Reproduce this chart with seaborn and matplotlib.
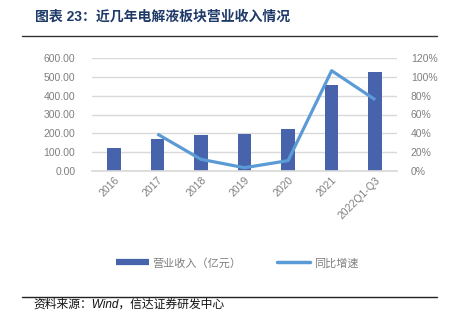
import matplotlib
matplotlib.use("Agg")
import matplotlib.pyplot as plt
import seaborn as sns
import pandas as pd
from matplotlib.lines import Line2D

categories = ["2016", "2017", "2018", "2019", "2020", "2021", "2022Q1-Q3"]
revenue = [122, 170, 191, 198, 221, 457, 527]          # 营业收入（亿元）
growth = [None, 39.3, 12.4, 3.5, 11.0, 106.5, 75.7]     # 同比增速 (%)
left_ticks = ["0.00", "100.00", "200.00", "300.00", "400.00", "500.00", "600.00"]
right_ticks = ["0%", "20%", "40%", "60%", "80%", "100%", "120%"]

title = "图表 23：近几年电解液板块营业收入情况"
source = "资料来源：Wind，信达证券研发中心"
legend_labels = ["营业收入（亿元）", "同比增速"]

sns.set_theme(style="white")
FAM = ["Liberation Sans", "Noto Sans CJK SC", "DejaVu Sans"]
plt.rcParams["font.family"] = FAM

bar_color = "#4663AC"
line_color = "#5B9BD5"
text_color = "#7F7F7F"
grid_color = "#D9D9D9"

df = pd.DataFrame({"cat": categories, "rev": revenue, "g": growth})
df["x"] = range(len(categories))

fig = plt.figure(figsize=(4.49, 3.25), dpi=100)
ax = fig.add_axes([92 / 449, 1 - 171 / 325, 305 / 449, 113 / 325])

sns.barplot(data=df, x="cat", y="rev", color=bar_color, width=0.31, ax=ax,
            saturation=1, order=categories, linewidth=0)
ax.set_xlim(-0.5, len(categories) - 0.5)
ax.set_ylim(0, 600)
ax.set_yticks([0, 100, 200, 300, 400, 500, 600])
ax.set_yticklabels(left_ticks)
ax.yaxis.grid(True, color=grid_color, linewidth=1.0)
ax.set_axisbelow(True)
ax.set_xlabel("")
ax.set_ylabel("")
for s in ["top", "right", "left"]:
    ax.spines[s].set_visible(False)
ax.spines["bottom"].set_color(grid_color)
ax.tick_params(axis="y", length=0, pad=12, labelsize=7.5, labelcolor=text_color)
ax.tick_params(axis="x", length=0, pad=3, labelsize=7.5, labelcolor=text_color)
for lbl in ax.get_xticklabels():
    lbl.set_rotation(45)
    lbl.set_ha("right")
    lbl.set_rotation_mode("anchor")

ax2 = ax.twinx()
sns.lineplot(data=df.dropna(), x="x", y="g", color=line_color, linewidth=2.3,
             ax=ax2, solid_capstyle="butt")
ax2.set_ylim(0, 120)
ax2.set_yticks([0, 20, 40, 60, 80, 100, 120])
ax2.set_yticklabels(right_ticks)
ax2.set_ylabel("")
ax2.set_xlabel("")
for s in ["top", "right", "left", "bottom"]:
    ax2.spines[s].set_visible(False)
ax2.tick_params(axis="y", length=0, pad=10, labelsize=7.5, labelcolor=text_color)
ax.set_xlim(-0.5, len(categories) - 0.5)

handles = [Line2D([0], [0], color=bar_color, linewidth=4.5, solid_capstyle="butt"),
           Line2D([0], [0], color=line_color, linewidth=2.5, solid_capstyle="round")]
fig.legend(handles, legend_labels, loc="center", bbox_to_anchor=(237 / 449, 1 - 263 / 325),
           ncol=2, frameon=False, fontsize=8, labelcolor=text_color,
           handlelength=3.0, handletextpad=0.3, columnspacing=3.2)

fig.text(35 / 449, 1 - 17 / 325, title, fontsize=10, fontweight="bold",
         color="#1F3A68", va="center", ha="left", family=FAM)
fig.add_artist(Line2D([22 / 449, 437 / 449], [1 - 35.5 / 325] * 2, color="#333333",
                      linewidth=1.0, transform=fig.transFigure))
fig.add_artist(Line2D([22 / 449, 437 / 449], [1 - 296.5 / 325] * 2, color="#222222",
                      linewidth=1.0, transform=fig.transFigure))
fig.text(33 / 449, 1 - 305 / 325, source, fontsize=8.5, style="italic",
         color="#111111", va="center", ha="left", family=FAM)

fig.savefig("out.png", dpi=100)
